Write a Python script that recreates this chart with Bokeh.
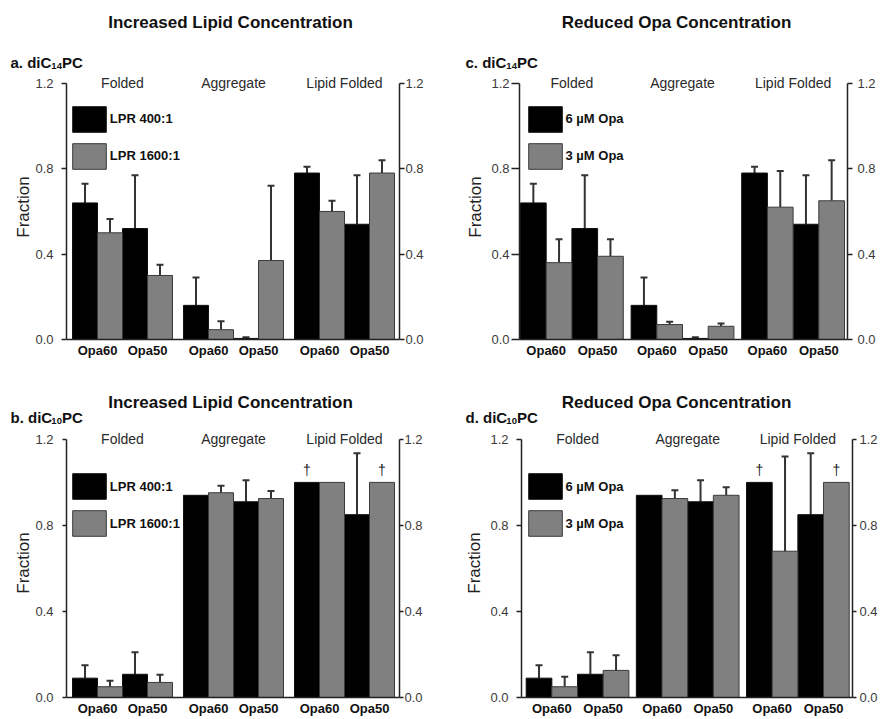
from bokeh.plotting import figure
from bokeh.models import (ColumnDataSource, Range1d, LinearAxis, FixedTicker,
                          PrintfTickFormatter, Whisker, TeeHead, Legend, LegendItem)
from bokeh.layouts import column, row
from bokeh.embed import file_html
from bokeh.resources import INLINE
from bokeh.core.properties import value

FONT = "Liberation Sans"

# ---------------- data ----------------
categories = ["Folded", "Aggregate", "Lipid Folded"]
peptides = ["Opa60", "Opa50"]
y_ticks = [0.0, 0.4, 0.8, 1.2]

lipid_series = ["LPR 400:1", "LPR 1600:1"]
opa_series = ["6 \u00b5M Opa", "3 \u00b5M Opa"]

# order: Folded Opa60, Folded Opa50, Aggregate Opa60, Aggregate Opa50, Lipid Folded Opa60, Lipid Folded Opa50
a_black = [0.64, 0.52, 0.16, 0.005, 0.78, 0.54]
a_black_err = [0.73, 0.77, 0.29, 0.010, 0.81, 0.77]
a_gray = [0.50, 0.30, 0.046, 0.37, 0.60, 0.78]
a_gray_err = [0.565, 0.35, 0.085, 0.72, 0.65, 0.84]

c_black = [0.64, 0.52, 0.16, 0.005, 0.78, 0.54]
c_black_err = [0.73, 0.77, 0.29, 0.010, 0.81, 0.77]
c_gray = [0.36, 0.39, 0.07, 0.062, 0.62, 0.65]
c_gray_err = [0.47, 0.47, 0.083, 0.075, 0.79, 0.84]

b_black = [0.09, 0.108, 0.94, 0.91, 1.00, 0.85]
b_black_err = [0.15, 0.21, 0.94, 1.01, 1.00, 1.135]
b_gray = [0.05, 0.07, 0.952, 0.925, 1.00, 1.00]
b_gray_err = [0.078, 0.106, 0.985, 0.96, 1.00, 1.00]
b_black_dagger = [0, 0, 0, 0, 1, 0]
b_gray_dagger = [0, 0, 0, 0, 0, 1]

d_black = [0.09, 0.108, 0.94, 0.91, 1.00, 0.85]
d_black_err = [0.15, 0.21, 0.94, 1.01, 1.00, 1.135]
d_gray = [0.05, 0.126, 0.925, 0.94, 0.68, 1.00]
d_gray_err = [0.097, 0.196, 0.963, 0.978, 1.12, 1.00]
d_black_dagger = [0, 0, 0, 0, 1, 0]
d_gray_dagger = [0, 0, 0, 0, 0, 1]

no_dagger = [0, 0, 0, 0, 0, 0]

BLACK = "#000000"
GRAY = "#808080"
AX = "#222222"


def make_header(spec, geo):
    W, Hh = geo["W"], geo["Hh"]
    h = figure(width=W, height=Hh, x_range=Range1d(0, W), y_range=Range1d(Hh, 0),
               x_axis_type=None, y_axis_type=None, min_border=0, frame_align=False,
               output_backend="svg", toolbar_location=None, outline_line_color=None)
    h.grid.visible = False
    top = geo["htop"]
    h.text(x=[geo["tx"] - geo["dx"]], y=[geo["ty"] - top], text=[spec["title"]],
           text_align="center", text_baseline="middle", text_font=value(FONT),
           text_font_size="17px", text_font_style="bold", text_color="#111111")
    lx = geo["lx"] - geo["dx"]
    ly = geo["ly"] - top
    w1 = 2.723 * 15
    w2 = 1.112 * 9.5
    pieces = [(spec["lab"], lx, ly, "15px"),
              (spec["sub"], lx + w1, ly + 3, "9.5px"),
              ("PC", lx + w1 + w2, ly, "15px")]
    for txt, x, y, fs in pieces:
        h.text(x=[x], y=[y], text=[txt], text_align="left",
               text_baseline="alphabetic", text_font=value(FONT),
               text_font_size=fs, text_font_style="bold", text_color="#111111")
    return h


def make_panel(spec, geo):
    W, H = geo["W"], geo["H"]
    top = geo["top"]
    bl = round(geo["axis_l"] - geo["dx"])
    br = W - round(geo["axis_r"] - geo["dx"])
    bb = H - round(geo["y0"] - top)
    frame_w = W - bl - br
    frame_h = H - bb
    y12_rel = geo["y12"] - top
    ppu = (frame_h - y12_rel) / 1.2
    ytop = frame_h / ppu
    bar = geo["bar"]
    gap_u = geo["gap"] / bar
    x0 = -geo["pad"] / bar
    x1 = x0 + frame_w / bar
    fl_ref = geo["dx"] + bl
    fb_ref = top + frame_h

    p = figure(width=W, height=H, x_range=Range1d(x0, x1), y_range=Range1d(0, ytop),
               min_border_left=bl, min_border_right=br, min_border_top=0,
               min_border_bottom=bb, frame_align=False, output_backend="svg",
               toolbar_location=None, outline_line_color=None)
    p.grid.visible = False

    n_pep = len(peptides)
    group_w = 2 * n_pep + gap_u
    xb, xg, pair_c, group_c, pair_lab = [], [], [], [], []
    for j, cat in enumerate(categories):
        base = j * group_w
        group_c.append(base + n_pep)
        for k, pep in enumerate(peptides):
            pc = base + 2 * k + 1
            pair_c.append(pc)
            pair_lab.append(pep)
            xb.append(pc - 0.5)
            xg.append(pc + 0.5)

    rb = p.vbar(x=xb, top=spec["black"], width=1, bottom=0, fill_color=BLACK,
                line_color="#111111", line_width=1)
    rg = p.vbar(x=xg, top=spec["gray"], width=1, bottom=0, fill_color=GRAY,
                line_color="#3a3a3a", line_width=1)

    wx, wlo, whi = [], [], []
    for xs, vals, errs in ((xb, spec["black"], spec["black_err"]),
                           (xg, spec["gray"], spec["gray_err"])):
        for x, v, e in zip(xs, vals, errs):
            if e > v + 1e-9:
                wx.append(x); wlo.append(v); whi.append(e)
    wsrc = ColumnDataSource(dict(x=wx, lower=wlo, upper=whi))
    p.add_layout(Whisker(source=wsrc, base="x", lower="lower", upper="upper",
                         dimension="height", line_color="#333333", line_width=2,
                         upper_head=TeeHead(size=7, line_width=2, line_color="#333333"),
                         lower_head=None))

    dxs, dys = [], []
    for xs, vals, flags in ((xb, spec["black"], spec["black_dag"]),
                            (xg, spec["gray"], spec["gray_dag"])):
        for x, v, f in zip(xs, vals, flags):
            if f:
                dxs.append(x); dys.append(v)
    if dxs:
        p.text(x=dxs, y=dys, text=["\u2020"] * len(dxs), y_offset=-12,
               text_align="center", text_baseline="middle", text_font=value(FONT),
               text_font_size="14px", text_color="#222222")

    # category labels along the top
    p.text(x=group_c, y=[1.2] * len(group_c), text=categories, text_align="center",
           text_baseline="middle", text_font=value(FONT), text_font_size="14px",
           text_color="#2a2a2a")

    # axes
    xa = p.xaxis[0]
    xa.ticker = FixedTicker(ticks=pair_c)
    xa.major_label_overrides = {pc: lab for pc, lab in zip(pair_c, pair_lab)}
    xa.major_tick_out = 0
    xa.major_tick_in = 0
    xa.minor_tick_line_color = None
    xa.axis_line_color = AX
    xa.axis_line_width = 1.5
    xa.major_label_standoff = 3
    xa.major_label_text_font = FONT
    xa.major_label_text_font_size = "13px"
    xa.major_label_text_font_style = "bold"
    xa.major_label_text_color = "#111111"

    def style_y(ax, tick, standoff):
        ax.ticker = FixedTicker(ticks=y_ticks)
        ax.formatter = PrintfTickFormatter(format="%.1f")
        ax.bounds = (0, 1.2)
        ax.major_tick_out = tick
        ax.major_tick_in = 0
        ax.minor_tick_line_color = None
        ax.axis_line_color = AX
        ax.axis_line_width = 1.5
        ax.major_tick_line_color = AX
        ax.major_tick_line_width = 1.5
        ax.major_label_standoff = standoff
        ax.major_label_text_font = FONT
        ax.major_label_text_font_size = "13px"
        ax.major_label_text_color = "#3a3a3a"

    ya = p.yaxis[0]
    style_y(ya, geo["lt"], geo["ls"])
    ya.axis_label = "Fraction"
    ya.axis_label_text_font = FONT
    ya.axis_label_text_font_size = "17px"
    ya.axis_label_text_font_style = "normal"
    ya.axis_label_text_color = "#222222"
    ya.axis_label_standoff = geo["als"]

    yr = LinearAxis()
    style_y(yr, geo["rt"], geo["rs"])
    p.add_layout(yr, "right")

    # legend
    leg = Legend(items=[LegendItem(label=spec["series"][0], renderers=[rb]),
                        LegendItem(label=spec["series"][1], renderers=[rg])],
                 location=(geo["leg_x"] - fl_ref - 4.2, fb_ref - geo["leg_b"] - 3.2),
                 glyph_width=42, glyph_height=32, label_height=32, spacing=5,
                 label_standoff=0, padding=0, margin=0, border_line_color=None,
                 background_fill_alpha=0, label_text_font=FONT,
                 label_text_font_size="13px", label_text_font_style="bold",
                 label_text_color="#111111")
    p.add_layout(leg)
    return p


specs = {
    "a": dict(title="Increased Lipid Concentration", lab="a. diC", sub="14",
              series=lipid_series, black=a_black, black_err=a_black_err,
              gray=a_gray, gray_err=a_gray_err, black_dag=no_dagger, gray_dag=no_dagger),
    "c": dict(title="Reduced Opa Concentration", lab="c. diC", sub="14",
              series=opa_series, black=c_black, black_err=c_black_err,
              gray=c_gray, gray_err=c_gray_err, black_dag=no_dagger, gray_dag=no_dagger),
    "b": dict(title="Increased Lipid Concentration", lab="b. diC", sub="10",
              series=lipid_series, black=b_black, black_err=b_black_err,
              gray=b_gray, gray_err=b_gray_err, black_dag=b_black_dagger, gray_dag=b_gray_dagger),
    "d": dict(title="Reduced Opa Concentration", lab="d. diC", sub="10",
              series=opa_series, black=d_black, black_err=d_black_err,
              gray=d_gray, gray_err=d_gray_err, black_dag=d_black_dagger, gray_dag=d_gray_dagger),
}

row1 = dict(htop=0, Hh=74, top=74, H=286, y0=342.3, y12=83, ty=22, ly=62,
            leg_b=171.3)
row2 = dict(htop=360, Hh=68, top=428, H=290, y0=699.7, y12=439, ty=401.7, ly=417,
            leg_b=539)
left = dict(W=440, dx=0, axis_l=66, axis_r=399, bar=25, gap=11, pad=6, tx=230,
            lx=10, leg_x=72)

geos = {
    "a": dict(**row1, **left, lt=5, ls=8, rt=5, rs=1, als=-1),
    "b": dict(**row2, **left, lt=4, ls=9, rt=4, rs=1, als=-1),
    "c": dict(**row1, W=440, dx=440, axis_l=519, axis_r=847, bar=25.7, gap=7.8,
              pad=1, tx=676, lx=465, leg_x=527.7, lt=8, ls=2, rt=5, rs=5, als=3),
    "d": dict(**row2, W=440, dx=440, axis_l=521, axis_r=853, bar=25.75, gap=7.5,
              pad=4.7, tx=676, lx=465, leg_x=527.7, lt=5, ls=8, rt=4, rs=3, als=3),
}

cols = {}
for key in ["a", "b", "c", "d"]:
    cols[key] = column(make_header(specs[key], geos[key]),
                       make_panel(specs[key], geos[key]), spacing=0)

layout = column(row(cols["a"], cols["c"], spacing=0),
                row(cols["b"], cols["d"], spacing=0), spacing=0)

with open("out.html", "w") as f:
    f.write(file_html(layout, INLINE))
